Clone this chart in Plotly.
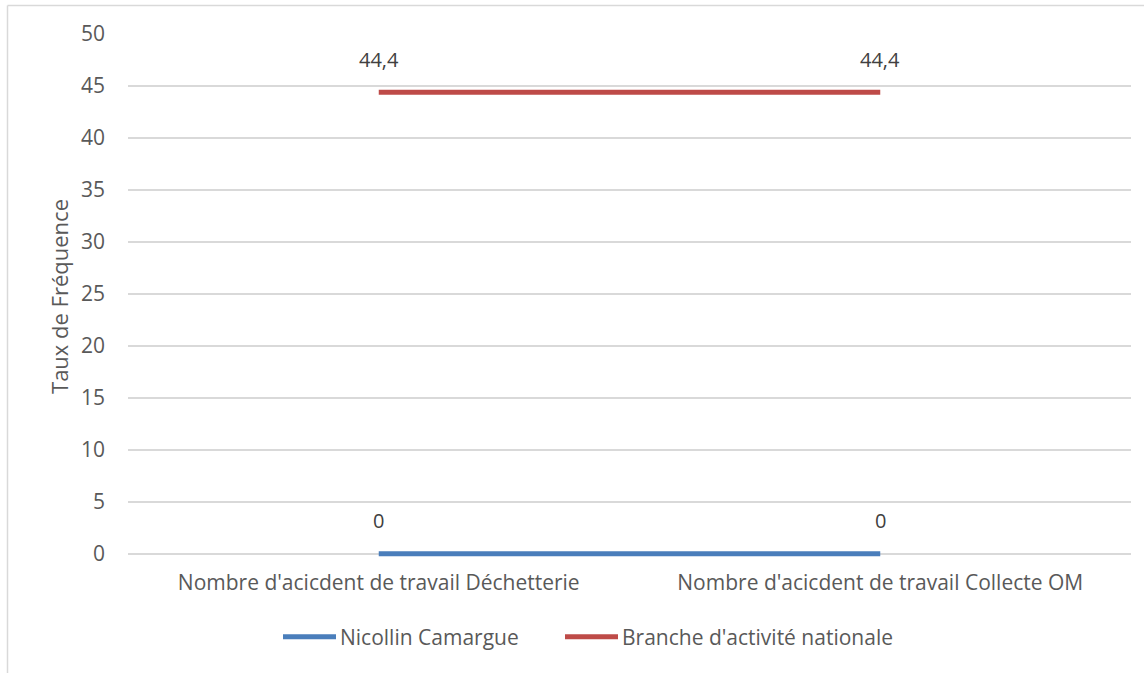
import plotly.graph_objects as go

# Categories and series values
categories = [
    "Nombre d'acicdent de travail Déchetterie",
    "Nombre d'acicdent de travail Collecte OM",
]
nicollin = [0, 0]
branche = [44.4, 44.4]
y_ticks = [0, 5, 10, 15, 20, 25, 30, 35, 40, 45, 50]

W, H = 1144, 673
FONT = "Open Sans"
FS = 21
TXT = "#595959"

# y range starts a little below zero so the zero line is not clipped
Y0, Y1 = -0.5, 50
PX_PER_UNIT = 10.4
L, R, T = 128, 13, 34
B = H - (554 + (0 - Y0) * PX_PER_UNIT)


def fmt(v):
    s = f"{v:g}"
    return s.replace(".", ",")


series = [
    ("Nicollin Camargue", nicollin, "#4A7EBB"),
    ("Branche d'activité nationale", branche, "#BE4B48"),
]

fig = go.Figure()
for name, vals, col in series:
    fig.add_trace(go.Scatter(
        x=categories, y=vals, mode="lines", name=name,
        line=dict(color=col, width=5), showlegend=False,
    ))
    # data labels above each point
    for c, v in zip(categories, vals):
        fig.add_annotation(x=c, y=v, text=fmt(v), showarrow=False,
                           yshift=33, font=dict(family=FONT, size=FS - 1, color="#404040"))

pw = W - L - R
ph = H - T - B
def px_x(px):
    return (px - L) / pw
def px_y(py):
    return (H - B - py) / ph

# frame around the chart (left and top edges visible)
fig.add_shape(type="line", xref="paper", yref="paper",
              x0=px_x(7.5), x1=px_x(W + 5), y0=px_y(5.5), y1=px_y(5.5),
              line=dict(color="#D9D9D9", width=1.5))
fig.add_shape(type="line", xref="paper", yref="paper",
              x0=px_x(7.5), x1=px_x(7.5), y0=px_y(5.5), y1=px_y(H + 5),
              line=dict(color="#D9D9D9", width=1.5))

# legend below the plot
legend_items = [(283, "Nicollin Camargue", "#4A7EBB"),
                (565, "Branche d'activité nationale", "#BE4B48")]
LEG_Y = 637
for x_start, name, col in legend_items:
    fig.add_shape(type="line", xref="paper", yref="paper",
                  x0=px_x(x_start), x1=px_x(x_start + 53),
                  y0=px_y(LEG_Y), y1=px_y(LEG_Y),
                  line=dict(color=col, width=5))
    fig.add_annotation(xref="paper", yref="paper", x=px_x(x_start + 55), y=px_y(LEG_Y),
                       text=name, showarrow=False, xanchor="left", yanchor="middle",
                       font=dict(family=FONT, size=FS, color=TXT))

fig.update_layout(
    width=W, height=H,
    margin=dict(l=L, r=R, t=T, b=B),
    paper_bgcolor="white", plot_bgcolor="white",
    font=dict(family=FONT, size=FS, color=TXT),
    showlegend=False,
    xaxis=dict(type="category", range=[-0.5, 1.5], showgrid=False,
               showline=False, zeroline=False, ticks="",
               tickfont=dict(family=FONT, size=FS, color=TXT), ticklabelstandoff=9),
    yaxis=dict(range=[Y0, Y1], tickvals=y_ticks, showgrid=True,
               gridcolor="#D9D9D9", gridwidth=1.5, zeroline=False,
               showline=False, ticks="",
               tickfont=dict(family=FONT, size=FS, color=TXT),
               ticklabelstandoff=22,
               title=dict(text="Taux de Fréquence", standoff=6,
                          font=dict(family=FONT, size=22, color=TXT))),
)

fig.write_html("out.html")
